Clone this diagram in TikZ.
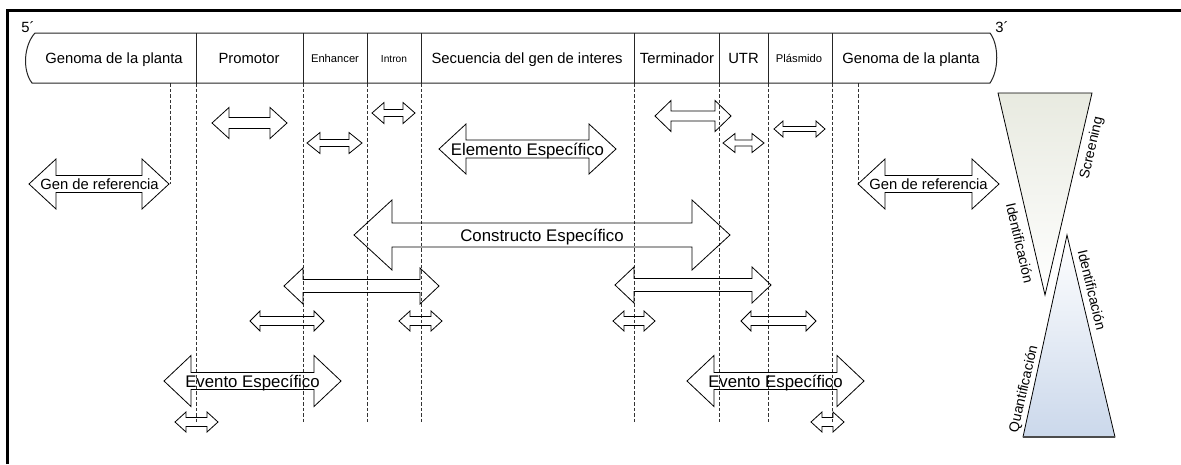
\documentclass[tikz,border=0pt]{standalone}
\usepackage{fontspec}
\setmainfont{Liberation Sans}
\usetikzlibrary{calc}
\definecolor{topfun}{RGB}{232,234,224}
\definecolor{botfun}{RGB}{203,216,235}
% #1 name, #2 left tip x, #3 right tip x, #4 y, #5 head half-height, #6 shaft half-height, #7 head length
\newcommand\dblarr[7]{%
  \draw[arr] (#2,#4) -- ({#2+#7},{#4-#5}) -- ({#2+#7},{#4-#6}) -- ({#3-#7},{#4-#6}) -- ({#3-#7},{#4-#5}) -- (#3,#4)
    -- ({#3-#7},{#4+#5}) -- ({#3-#7},{#4+#6}) -- ({#2+#7},{#4+#6}) -- ({#2+#7},{#4+#5}) -- cycle;
  \coordinate (#1) at ({(#2+#3)/2},#4);}
\begin{document}
\begin{tikzpicture}[x=1pt,y=-1pt,
  arr/.style={draw=black, line width=0.8pt, line join=miter},
  guide/.style={draw=black!80, line width=0.7pt, dash pattern=on 3.5pt off 2pt},
  strip/.style={draw=black!85, line width=1pt},
  lbl/.style={inner sep=0pt, anchor=base, font=\fontsize{14.8}{16}\selectfont},
  big/.style={inner sep=0pt, anchor=base, font=\fontsize{16.8}{18}\selectfont},
  small/.style={inner sep=0pt, anchor=base, font=\fontsize{11.2}{13}\selectfont},
  side/.style={inner sep=0pt, font=\fontsize{14}{16}\selectfont},
  funnel/.style={draw=black, line width=0.8pt}]
\useasboundingbox (0,0) rectangle (1181,464);
\fill[white] (0,0) rectangle (1181,464);
% frame
\draw[line width=3pt] (7.5,464) -- (7.5,10.7) -- (1181,10.7);
% dashed guides
\foreach \x in {196,303,367,421,634,719,768,832} \draw[guide] (\x,83) -- (\x,422);
\draw[guide] (170,83) -- (170,184);
\draw[guide] (858,83) -- (858,184);
% strip
\draw[strip] (35,33) -- (990,33) .. controls (999,45) and (999,70) .. (990,83) -- (32,83) .. controls (22,70) and (24,45) .. (35,33) -- cycle;
\foreach \x in {196,303,367,421,634,719,768,832} \draw[strip, line width=0.9pt] (\x,33) -- (\x,83);
\node[lbl] (g1) at (114,63.3) {Genoma de la planta};
\node[lbl] (pro) at (249,63.3) {Promotor};
\node[small] (enh) at (335,62) {Enhancer};
\node[small, font=\fontsize{10.2}{12}\selectfont] (intr) at (394,62) {Intron};
\node[lbl] (seq) at (527,63.3) {Secuencia del gen de interes};
\node[lbl] (ter) at (677,63.3) {Terminador};
\node[lbl] (utr) at (743.5,63.3) {UTR};
\node[small] (pla) at (799,62) {Plásmido};
\node[lbl] (g2) at (911,63.3) {Genoma de la planta};
\node[lbl] (five) at (28,32) {5´};
\node[lbl] (three) at (1002,32) {3´};
% arrows
\dblarr{grl}{29}{169}{184}{25}{8.5}{27}
\node[lbl] (grlt) at ($(grl)+(0.5,5.3)$) {Gen de referencia};
\dblarr{grr}{858}{999}{184}{25}{8.5}{27}
\node[lbl] (grrt) at ($(grr)+(0,5.3)$) {Gen de referencia};
\dblarr{ap}{212}{287}{123}{15.5}{5.5}{17}
\dblarr{ae}{307}{362}{143}{10.5}{3.5}{13}
\dblarr{ai}{372}{415}{113}{10.5}{3.5}{12}
\dblarr{el}{439}{616}{149}{25}{9}{27}
\node[big] (elt) at ($(el)+(0,6)$) {Elemento Específico};
\dblarr{at}{655}{731}{116}{15.5}{5}{16}
\dblarr{au}{723}{764}{143}{9.5}{3}{12}
\dblarr{apl}{774}{825}{129}{8}{2.5}{9}
\dblarr{co}{354}{730}{235}{35}{12}{38}
\node[big] (cot) at ($(co)+(0,6)$) {Constructo Específico};
\dblarr{ml}{284}{439}{286}{18}{6.5}{19}
\dblarr{mr}{615}{771}{285}{18}{6.5}{19}
\dblarr{s1}{250}{324}{321}{10}{4.5}{10}
\dblarr{s2}{399}{442}{321}{10}{4.5}{11}
\dblarr{s3}{613}{655}{321}{10}{4.5}{11}
\dblarr{s4}{741}{816}{321}{10}{4.5}{10}
\dblarr{evl}{164}{341}{381}{25.5}{8.5}{27}
\node[big] (evlt) at ($(evl)+(0,6)$) {Evento Específico};
\dblarr{evr}{687}{864}{381}{25.5}{8.5}{27}
\node[big] (evrt) at ($(evr)+(0,6)$) {Evento Específico};
\dblarr{b1}{175}{218}{422}{10}{4.5}{11}
\dblarr{b2}{811}{844}{422}{10}{4.5}{11}
% funnels
\shade[top color=topfun, bottom color=white] (998,93) -- (1092,93) -- (1045,295) -- cycle;
\draw[funnel] (998,93) -- (1092,93) -- (1045,295) -- cycle;
\shade[top color=white, bottom color=botfun] (1067,235) -- (1115,437) -- (1023,437) -- cycle;
\draw[funnel] (1067,235) -- (1115,437) -- (1023,437) -- cycle;
\draw[black!70, line width=1.6pt] (1023,437) -- (1115,437);
\node[side, rotate=77] (scr) at (1092,148) {Screening};
\node[side, rotate=-77] (id1) at (1020,243) {Identificación};
\node[side, rotate=-76.5] (id2) at (1092,290) {Identificación};
\node[side, rotate=77] (qua) at (1024,389) {Quantificación};
\end{tikzpicture}
\end{document}
